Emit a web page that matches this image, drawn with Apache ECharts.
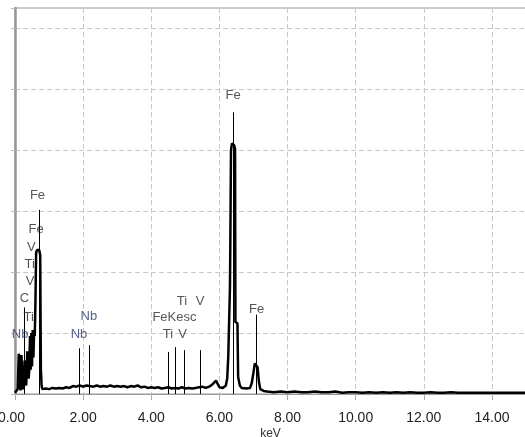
<!DOCTYPE html>
<html>
<head>
<meta charset="utf-8">
<script src="https://cdn.jsdelivr.net/npm/echarts@6/dist/echarts.min.js"></script>
<style>
html,body{margin:0;padding:0;background:#fff;}
#chart{width:525px;height:437px;}
</style>
</head>
<body>
<div id="chart"></div>
<script>
// EDS spectrum: energy (keV) and counts
var energyKeV = [
  0.00,0.04,0.08,0.11,0.13,0.15,0.17,0.19,0.21,0.23,0.26,0.28,0.30,0.33,0.36,0.38,0.40,0.42,
  0.44,0.46,0.48,0.50,0.52,0.54,0.56,0.58,0.60,0.62,0.65,0.68,0.71,0.74,0.76,0.78,
  0.80,0.90,1.00,1.10,1.20,1.30,1.40,1.50,1.60,1.70,1.80,1.90,2.00,2.10,2.20,2.30,2.40,2.50,
  2.60,2.70,2.80,2.90,3.00,3.10,3.20,3.30,3.40,3.50,3.60,3.70,3.80,3.90,4.00,4.10,4.20,4.30,
  4.40,4.50,4.60,4.70,4.80,4.90,5.00,5.10,5.20,5.30,5.40,5.50,5.60,5.70,5.80,5.90,5.95,6.00,
  6.10,6.15,6.19,6.23,6.26,6.29,6.31,6.32,6.34,6.37,6.40,6.43,6.46,6.47,6.53,6.55,6.60,6.65,
  6.70,6.80,6.90,6.95,7.00,7.04,7.08,7.12,7.16,7.20,7.30,7.40,
  7.60,7.80,8.00,8.20,8.40,8.60,8.80,9.00,9.20,9.40,9.60,9.80,10.00,10.20,10.40,10.60,10.80,
  11.00,11.20,11.40,11.60,11.80,12.00,12.20,12.40,12.60,12.80,13.00,13.20,13.40,13.60,13.80,
  14.00,14.20,14.40,14.60,14.80,15.00
];
var counts = [
  2,4,8,66,60,10,6,64,30,8,12,55,20,14,70,72,25,40,
  95,40,100,45,105,60,100,95,150,232,236,238,236,228,40,14,
  8,9,8,10,9,10,9,11,10,13,12,14,12,14,13,12,14,12,
  13,12,14,12,13,12,13,11,13,12,14,11,12,10,11,10,11,9,
  10,11,9,10,9,11,9,10,9,10,11,12,10,12,16,22,20,11,
  10,12,14,26,61,64,175,240,400,411,411,408,402,118,116,28,14,10,
  8,9,10,18,35,50,52,44,20,8,5,4,
  3,4,3,4,3,3,4,3,3,4,2,3,3,2,3,2,3,
  2,3,2,3,2,2,3,2,2,3,2,2,2,2,2,
  2,2,2,2,2,2
];

// Element marker lines: energy and top height (counts)
var markerKeV = [0.277, 0.70, 1.88, 2.17, 4.51, 4.70, 4.97, 5.44, 6.40, 7.07];
var markerTop = [142, 302, 75, 80, 69, 77, 72, 72, 462, 130];

// Peak labels: text, energy, height (counts)
var labelText = ['Fe','Fe','V','Ti','V','C','Ti','Nb','Nb','Nb','Ti','V','FeKesc','Ti','V','Fe','Fe'];
var labelKeV  = [0.66,0.62,0.48,0.43,0.44,0.28,0.40,0.15,2.17,1.88,4.90,5.43,4.68,4.49,4.92,6.40,7.09];
var labelVal  = [325,270,241,213,184,156,126,97,128,98,152,152,125,97,97,489,139];

// X tick labels
var xTickValues = [0,2,4,6,8,10,12,14];
var xTickLabels = ['0.00','2.00','4.00','6.00','8.00','10.00','12.00','14.00'];

var spectrum = energyKeV.map(function(e,i){ return [e, counts[i]]; });
var markLines = markerKeV.map(function(e,i){
  return [{coord:[e,0]},{coord:[e,markerTop[i]]}];
});
var labels = labelText.map(function(t,i){
  var item = {value:[labelKeV[i], labelVal[i]], name:t};
  if (t === 'Nb') item.label = {color:'#2b3a6e'};
  return item;
});

var chart = echarts.init(document.getElementById('chart'), null, {renderer:'canvas'});
chart.setOption({
  animation:false,
  backgroundColor:'#fff',
  grid:{left:15,right:-1,top:8,bottom:43,show:true,borderColor:'#999',borderWidth:1,
        containLabel:false,outerBoundsMode:'none'},
  xAxis:{
    type:'value',min:0,max:15,interval:2,
    name:'keV',nameLocation:'middle',nameGap:34,nameMoveOverlap:false,
    nameTextStyle:{fontFamily:'Liberation Sans, Arial',fontSize:12,color:'#333'},
    axisLine:{show:true,lineStyle:{color:'#999',width:1}},
    axisTick:{show:true,length:6,lineStyle:{color:'#aaa'}},
    axisLabel:{
      margin:17,fontFamily:'Liberation Sans, Arial',fontSize:14,color:'#222',
      showMaxLabel:false,
      formatter:function(v){
        var k = xTickValues.indexOf(v);
        if (k < 0) return '';
        return k === 0 ? '{first|' + xTickLabels[k] + '}' : xTickLabels[k];
      },
      rich:{first:{fontFamily:'Liberation Sans, Arial',fontSize:14,color:'#222',padding:[0,7,0,0]}}
    },
    splitLine:{show:true,lineStyle:{color:'#c8c8c8',type:[5,3],width:1}}
  },
  yAxis:{
    type:'value',min:0,max:633,interval:100,
    axisLine:{show:true,lineStyle:{color:'#999',width:2.5}},
    axisTick:{show:true,length:4,lineStyle:{color:'#bbb'}},
    axisLabel:{show:false},
    splitLine:{show:true,lineStyle:{color:'#c8c8c8',type:[5,3],width:1}}
  },
  series:[
    {
      type:'line',data:spectrum,showSymbol:false,symbol:'none',
      lineStyle:{color:'#000',width:2.5},z:3,
      markLine:{
        silent:true,symbol:'none',animation:false,
        label:{show:false},
        lineStyle:{color:'#000',width:1,type:'solid'},
        data:markLines
      }
    },
    {
      type:'scatter',data:labels,symbolSize:1,z:5,
      itemStyle:{color:'transparent'},
      label:{
        show:true,position:'inside',
        fontFamily:'Liberation Sans, Arial',fontSize:13,
        color:'#2a2a2a',
        formatter:'{b}'
      },
      emphasis:{disabled:true}
    }
  ]
});
</script>
</body>
</html>
